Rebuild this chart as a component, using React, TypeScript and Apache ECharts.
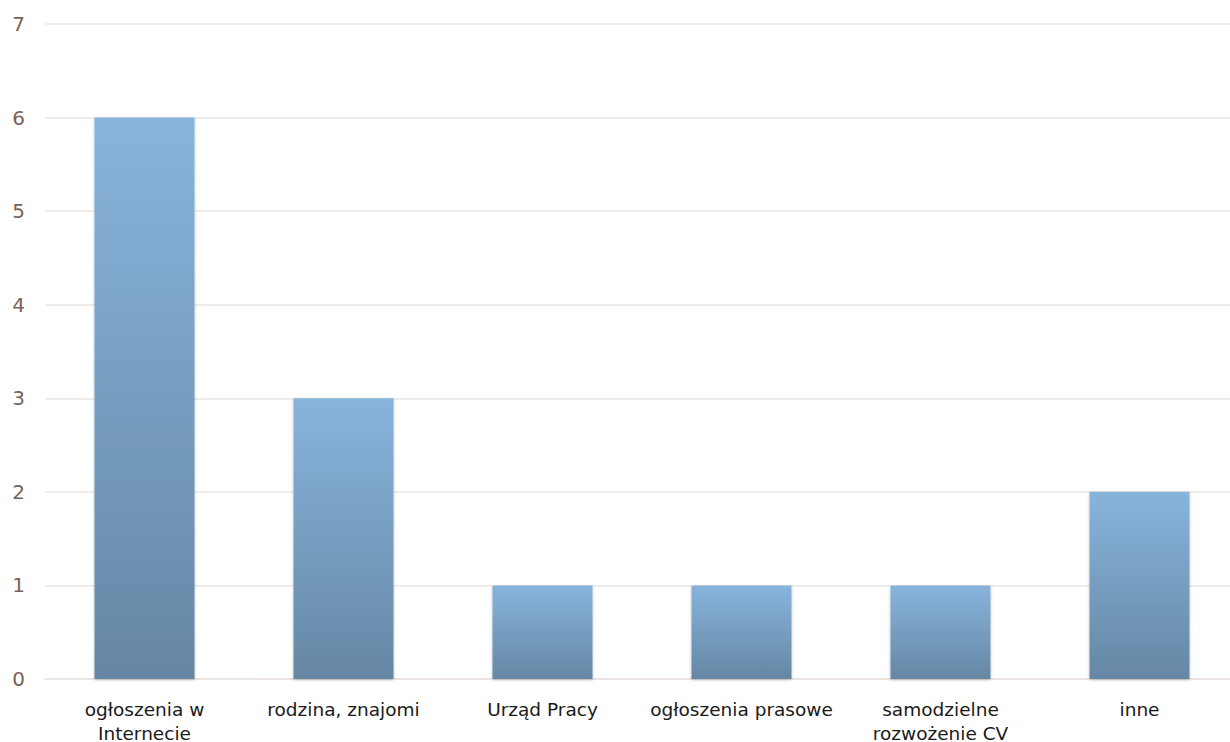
import React, { useEffect, useRef } from "react";
import * as echarts from "echarts";

const categories = [
  "ogłoszenia w\nInternecie",
  "rodzina, znajomi",
  "Urząd Pracy",
  "ogłoszenia prasowe",
  "samodzielne\nrozwożenie CV",
  "inne",
];
const values = [6, 3, 1, 1, 1, 2];
const yTicks = { min: 0, max: 7, interval: 1 };

export default function App() {
  const ref = useRef<HTMLDivElement>(null);
  useEffect(() => {
    if (!ref.current) return;
    const chart = echarts.init(ref.current, null, { renderer: "svg" });
    chart.setOption({
      animation: false,
      grid: { left: 45, right: -9, top: 24, bottom: 63, containLabel: false, outerBoundsMode: "none" },
      xAxis: {
        type: "category",
        data: categories,
        axisLine: { show: true, lineStyle: { color: "#e8e3e0", width: 1.5 } },
        axisTick: { show: false },
        axisLabel: {
          color: "#1a1a1a",
          fontSize: 18.5,
          fontFamily: "'DejaVu Sans', sans-serif",
          lineHeight: 24,
          margin: 18,
          interval: 0,
        },
      },
      yAxis: {
        type: "value",
        min: yTicks.min,
        max: yTicks.max,
        interval: yTicks.interval,
        axisLine: { show: false },
        axisTick: { show: false },
        splitLine: { lineStyle: { color: "#ebe6e3", width: 1.5 } },
        axisLabel: {
          color: "#7a6258",
          fontSize: 20,
          fontFamily: "'DejaVu Sans', sans-serif",
          margin: 20,
        },
      },
      series: [
        {
          type: "bar",
          data: values,
          barWidth: 100,
          itemStyle: {
            color: new echarts.graphic.LinearGradient(0, 0, 0, 1, [
              { offset: 0, color: "#88b4dc" },
              { offset: 1, color: "#6587a4" },
            ]),
            shadowColor: "rgba(0,0,0,0.25)",
            shadowBlur: 3,
            shadowOffsetY: 1,
          },
        },
      ],
    });
    return () => chart.dispose();
  }, []);
  return <div ref={ref} style={{ width: 1230, height: 742, position: "absolute", left: 0, top: 0 }} />;
}
